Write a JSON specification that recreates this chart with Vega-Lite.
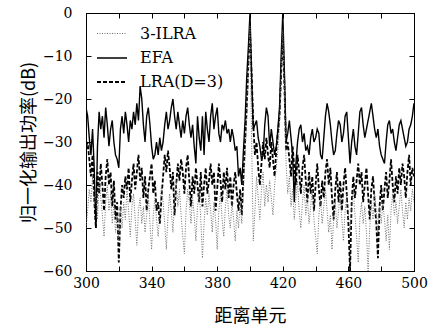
{
"$schema": "https://vega.github.io/schema/vega-lite/v6.json",
"width": 328, "height": 258,
"autosize": {"type": "none"},
"padding": {"left": 86, "top": 13, "right": 14, "bottom": 58},
"background": "white",
"config": {"view": {"stroke": "black", "strokeWidth": 1}, "font": "DejaVu Serif"},
"data": {"values": [
{"x":300,"s":"EFA","y":-22},{"x":301,"s":"EFA","y":-24},{"x":302,"s":"EFA","y":-29},{"x":303,"s":"EFA","y":-33},{"x":304,"s":"EFA","y":-27},{"x":305,"s":"EFA","y":-36},{"x":306,"s":"EFA","y":-50},{"x":307,"s":"EFA","y":-31},{"x":308,"s":"EFA","y":-23},{"x":309,"s":"EFA","y":-27},
{"x":310,"s":"EFA","y":-24},{"x":311,"s":"EFA","y":-29},{"x":312,"s":"EFA","y":-22},{"x":313,"s":"EFA","y":-26},{"x":314,"s":"EFA","y":-31},{"x":315,"s":"EFA","y":-27},{"x":316,"s":"EFA","y":-25},{"x":317,"s":"EFA","y":-30},{"x":318,"s":"EFA","y":-33},{"x":319,"s":"EFA","y":-34},
{"x":320,"s":"EFA","y":-36},{"x":321,"s":"EFA","y":-27},{"x":322,"s":"EFA","y":-24},{"x":323,"s":"EFA","y":-28},{"x":324,"s":"EFA","y":-23},{"x":325,"s":"EFA","y":-26},{"x":326,"s":"EFA","y":-30},{"x":327,"s":"EFA","y":-25},{"x":328,"s":"EFA","y":-27},{"x":329,"s":"EFA","y":-23},
{"x":330,"s":"EFA","y":-26},{"x":331,"s":"EFA","y":-21},{"x":332,"s":"EFA","y":-25},{"x":333,"s":"EFA","y":-17},{"x":334,"s":"EFA","y":-20},{"x":335,"s":"EFA","y":-26},{"x":336,"s":"EFA","y":-30},{"x":337,"s":"EFA","y":-24},{"x":338,"s":"EFA","y":-22},{"x":339,"s":"EFA","y":-26},
{"x":340,"s":"EFA","y":-31},{"x":341,"s":"EFA","y":-34},{"x":342,"s":"EFA","y":-33},{"x":343,"s":"EFA","y":-30},{"x":344,"s":"EFA","y":-33},{"x":345,"s":"EFA","y":-29},{"x":346,"s":"EFA","y":-32},{"x":347,"s":"EFA","y":-30},{"x":348,"s":"EFA","y":-26},{"x":349,"s":"EFA","y":-23},
{"x":350,"s":"EFA","y":-27},{"x":351,"s":"EFA","y":-25},{"x":352,"s":"EFA","y":-22},{"x":353,"s":"EFA","y":-20},{"x":354,"s":"EFA","y":-24},{"x":355,"s":"EFA","y":-27},{"x":356,"s":"EFA","y":-23},{"x":357,"s":"EFA","y":-26},{"x":358,"s":"EFA","y":-29},{"x":359,"s":"EFA","y":-25},
{"x":360,"s":"EFA","y":-28},{"x":361,"s":"EFA","y":-24},{"x":362,"s":"EFA","y":-22},{"x":363,"s":"EFA","y":-26},{"x":364,"s":"EFA","y":-29},{"x":365,"s":"EFA","y":-26},{"x":366,"s":"EFA","y":-31},{"x":367,"s":"EFA","y":-35},{"x":368,"s":"EFA","y":-24},{"x":369,"s":"EFA","y":-29},
{"x":370,"s":"EFA","y":-32},{"x":371,"s":"EFA","y":-24},{"x":372,"s":"EFA","y":-33},{"x":373,"s":"EFA","y":-23},{"x":374,"s":"EFA","y":-27},{"x":375,"s":"EFA","y":-30},{"x":376,"s":"EFA","y":-24},{"x":377,"s":"EFA","y":-21},{"x":378,"s":"EFA","y":-27},{"x":379,"s":"EFA","y":-24},
{"x":380,"s":"EFA","y":-22},{"x":381,"s":"EFA","y":-28},{"x":382,"s":"EFA","y":-30},{"x":383,"s":"EFA","y":-26},{"x":384,"s":"EFA","y":-27},{"x":385,"s":"EFA","y":-25},{"x":386,"s":"EFA","y":-28},{"x":387,"s":"EFA","y":-27},{"x":388,"s":"EFA","y":-30},{"x":389,"s":"EFA","y":-27},
{"x":390,"s":"EFA","y":-29},{"x":391,"s":"EFA","y":-32},{"x":392,"s":"EFA","y":-31},{"x":393,"s":"EFA","y":-38},{"x":394,"s":"EFA","y":-36},{"x":395,"s":"EFA","y":-40},{"x":396,"s":"EFA","y":-32},{"x":397,"s":"EFA","y":-25},{"x":398,"s":"EFA","y":-15},{"x":399,"s":"EFA","y":-8},
{"x":400,"s":"EFA","y":0},{"x":401,"s":"EFA","y":-15},{"x":402,"s":"EFA","y":-27},{"x":403,"s":"EFA","y":-26},{"x":404,"s":"EFA","y":-25},{"x":405,"s":"EFA","y":-29},{"x":406,"s":"EFA","y":-31},{"x":407,"s":"EFA","y":-34},{"x":408,"s":"EFA","y":-33},{"x":409,"s":"EFA","y":-26},
{"x":410,"s":"EFA","y":-22},{"x":411,"s":"EFA","y":-24},{"x":412,"s":"EFA","y":-31},{"x":413,"s":"EFA","y":-27},{"x":414,"s":"EFA","y":-30},{"x":415,"s":"EFA","y":-33},{"x":416,"s":"EFA","y":-31},{"x":417,"s":"EFA","y":-27},{"x":418,"s":"EFA","y":-22},{"x":419,"s":"EFA","y":-10},
{"x":420,"s":"EFA","y":0},{"x":421,"s":"EFA","y":-14},{"x":422,"s":"EFA","y":-30},{"x":423,"s":"EFA","y":-28},{"x":424,"s":"EFA","y":-25},{"x":425,"s":"EFA","y":-29},{"x":426,"s":"EFA","y":-33},{"x":427,"s":"EFA","y":-44},{"x":428,"s":"EFA","y":-35},{"x":429,"s":"EFA","y":-30},
{"x":430,"s":"EFA","y":-27},{"x":431,"s":"EFA","y":-26},{"x":432,"s":"EFA","y":-30},{"x":433,"s":"EFA","y":-28},{"x":434,"s":"EFA","y":-32},{"x":435,"s":"EFA","y":-31},{"x":436,"s":"EFA","y":-33},{"x":437,"s":"EFA","y":-29},{"x":438,"s":"EFA","y":-27},{"x":439,"s":"EFA","y":-30},
{"x":440,"s":"EFA","y":-29},{"x":441,"s":"EFA","y":-27},{"x":442,"s":"EFA","y":-28},{"x":443,"s":"EFA","y":-33},{"x":444,"s":"EFA","y":-34},{"x":445,"s":"EFA","y":-29},{"x":446,"s":"EFA","y":-24},{"x":447,"s":"EFA","y":-21},{"x":448,"s":"EFA","y":-23},{"x":449,"s":"EFA","y":-26},
{"x":450,"s":"EFA","y":-30},{"x":451,"s":"EFA","y":-33},{"x":452,"s":"EFA","y":-32},{"x":453,"s":"EFA","y":-28},{"x":454,"s":"EFA","y":-25},{"x":455,"s":"EFA","y":-26},{"x":456,"s":"EFA","y":-30},{"x":457,"s":"EFA","y":-28},{"x":458,"s":"EFA","y":-24},{"x":459,"s":"EFA","y":-23},
{"x":460,"s":"EFA","y":-29},{"x":461,"s":"EFA","y":-35},{"x":462,"s":"EFA","y":-30},{"x":463,"s":"EFA","y":-27},{"x":464,"s":"EFA","y":-31},{"x":465,"s":"EFA","y":-33},{"x":466,"s":"EFA","y":-28},{"x":467,"s":"EFA","y":-23},{"x":468,"s":"EFA","y":-22},{"x":469,"s":"EFA","y":-26},
{"x":470,"s":"EFA","y":-29},{"x":471,"s":"EFA","y":-27},{"x":472,"s":"EFA","y":-25},{"x":473,"s":"EFA","y":-23},{"x":474,"s":"EFA","y":-21},{"x":475,"s":"EFA","y":-24},{"x":476,"s":"EFA","y":-27},{"x":477,"s":"EFA","y":-29},{"x":478,"s":"EFA","y":-27},{"x":479,"s":"EFA","y":-31},
{"x":480,"s":"EFA","y":-33},{"x":481,"s":"EFA","y":-34},{"x":482,"s":"EFA","y":-35},{"x":483,"s":"EFA","y":-30},{"x":484,"s":"EFA","y":-26},{"x":485,"s":"EFA","y":-25},{"x":486,"s":"EFA","y":-28},{"x":487,"s":"EFA","y":-27},{"x":488,"s":"EFA","y":-30},{"x":489,"s":"EFA","y":-32},
{"x":490,"s":"EFA","y":-29},{"x":491,"s":"EFA","y":-26},{"x":492,"s":"EFA","y":-25},{"x":493,"s":"EFA","y":-27},{"x":494,"s":"EFA","y":-29},{"x":495,"s":"EFA","y":-31},{"x":496,"s":"EFA","y":-30},{"x":497,"s":"EFA","y":-27},{"x":498,"s":"EFA","y":-26},{"x":499,"s":"EFA","y":-24},
{"x":500,"s":"EFA","y":-21},
{"x":300,"s":"LRA(D=3)","y":-32},{"x":301,"s":"LRA(D=3)","y":-30},{"x":302,"s":"LRA(D=3)","y":-34},{"x":303,"s":"LRA(D=3)","y":-38},{"x":304,"s":"LRA(D=3)","y":-33},{"x":305,"s":"LRA(D=3)","y":-43},{"x":306,"s":"LRA(D=3)","y":-50},{"x":307,"s":"LRA(D=3)","y":-37},{"x":308,"s":"LRA(D=3)","y":-42},{"x":309,"s":"LRA(D=3)","y":-35},
{"x":310,"s":"LRA(D=3)","y":-40},{"x":311,"s":"LRA(D=3)","y":-46},{"x":312,"s":"LRA(D=3)","y":-38},{"x":313,"s":"LRA(D=3)","y":-34},{"x":314,"s":"LRA(D=3)","y":-40},{"x":315,"s":"LRA(D=3)","y":-37},{"x":316,"s":"LRA(D=3)","y":-45},{"x":317,"s":"LRA(D=3)","y":-39},{"x":318,"s":"LRA(D=3)","y":-48},{"x":319,"s":"LRA(D=3)","y":-44},
{"x":320,"s":"LRA(D=3)","y":-58},{"x":321,"s":"LRA(D=3)","y":-46},{"x":322,"s":"LRA(D=3)","y":-40},{"x":323,"s":"LRA(D=3)","y":-43},{"x":324,"s":"LRA(D=3)","y":-38},{"x":325,"s":"LRA(D=3)","y":-41},{"x":326,"s":"LRA(D=3)","y":-36},{"x":327,"s":"LRA(D=3)","y":-44},{"x":328,"s":"LRA(D=3)","y":-39},{"x":329,"s":"LRA(D=3)","y":-35},
{"x":330,"s":"LRA(D=3)","y":-41},{"x":331,"s":"LRA(D=3)","y":-37},{"x":332,"s":"LRA(D=3)","y":-33},{"x":333,"s":"LRA(D=3)","y":-39},{"x":334,"s":"LRA(D=3)","y":-36},{"x":335,"s":"LRA(D=3)","y":-43},{"x":336,"s":"LRA(D=3)","y":-38},{"x":337,"s":"LRA(D=3)","y":-46},{"x":338,"s":"LRA(D=3)","y":-41},{"x":339,"s":"LRA(D=3)","y":-38},
{"x":340,"s":"LRA(D=3)","y":-35},{"x":341,"s":"LRA(D=3)","y":-42},{"x":342,"s":"LRA(D=3)","y":-39},{"x":343,"s":"LRA(D=3)","y":-46},{"x":344,"s":"LRA(D=3)","y":-44},{"x":345,"s":"LRA(D=3)","y":-49},{"x":346,"s":"LRA(D=3)","y":-43},{"x":347,"s":"LRA(D=3)","y":-38},{"x":348,"s":"LRA(D=3)","y":-33},{"x":349,"s":"LRA(D=3)","y":-37},
{"x":350,"s":"LRA(D=3)","y":-32},{"x":351,"s":"LRA(D=3)","y":-36},{"x":352,"s":"LRA(D=3)","y":-41},{"x":353,"s":"LRA(D=3)","y":-37},{"x":354,"s":"LRA(D=3)","y":-47},{"x":355,"s":"LRA(D=3)","y":-40},{"x":356,"s":"LRA(D=3)","y":-35},{"x":357,"s":"LRA(D=3)","y":-39},{"x":358,"s":"LRA(D=3)","y":-34},{"x":359,"s":"LRA(D=3)","y":-37},
{"x":360,"s":"LRA(D=3)","y":-42},{"x":361,"s":"LRA(D=3)","y":-36},{"x":362,"s":"LRA(D=3)","y":-33},{"x":363,"s":"LRA(D=3)","y":-39},{"x":364,"s":"LRA(D=3)","y":-45},{"x":365,"s":"LRA(D=3)","y":-38},{"x":366,"s":"LRA(D=3)","y":-42},{"x":367,"s":"LRA(D=3)","y":-36},{"x":368,"s":"LRA(D=3)","y":-40},{"x":369,"s":"LRA(D=3)","y":-44},
{"x":370,"s":"LRA(D=3)","y":-37},{"x":371,"s":"LRA(D=3)","y":-45},{"x":372,"s":"LRA(D=3)","y":-40},{"x":373,"s":"LRA(D=3)","y":-36},{"x":374,"s":"LRA(D=3)","y":-42},{"x":375,"s":"LRA(D=3)","y":-39},{"x":376,"s":"LRA(D=3)","y":-35},{"x":377,"s":"LRA(D=3)","y":-40},{"x":378,"s":"LRA(D=3)","y":-37},{"x":379,"s":"LRA(D=3)","y":-46},
{"x":380,"s":"LRA(D=3)","y":-41},{"x":381,"s":"LRA(D=3)","y":-35},{"x":382,"s":"LRA(D=3)","y":-39},{"x":383,"s":"LRA(D=3)","y":-44},{"x":384,"s":"LRA(D=3)","y":-37},{"x":385,"s":"LRA(D=3)","y":-41},{"x":386,"s":"LRA(D=3)","y":-36},{"x":387,"s":"LRA(D=3)","y":-43},{"x":388,"s":"LRA(D=3)","y":-38},{"x":389,"s":"LRA(D=3)","y":-45},
{"x":390,"s":"LRA(D=3)","y":-40},{"x":391,"s":"LRA(D=3)","y":-37},{"x":392,"s":"LRA(D=3)","y":-42},{"x":393,"s":"LRA(D=3)","y":-46},{"x":394,"s":"LRA(D=3)","y":-41},{"x":395,"s":"LRA(D=3)","y":-47},{"x":396,"s":"LRA(D=3)","y":-38},{"x":397,"s":"LRA(D=3)","y":-30},{"x":398,"s":"LRA(D=3)","y":-22},{"x":399,"s":"LRA(D=3)","y":-12},
{"x":400,"s":"LRA(D=3)","y":-4},{"x":401,"s":"LRA(D=3)","y":-14},{"x":402,"s":"LRA(D=3)","y":-26},{"x":403,"s":"LRA(D=3)","y":-33},{"x":404,"s":"LRA(D=3)","y":-30},{"x":405,"s":"LRA(D=3)","y":-36},{"x":406,"s":"LRA(D=3)","y":-40},{"x":407,"s":"LRA(D=3)","y":-35},{"x":408,"s":"LRA(D=3)","y":-30},{"x":409,"s":"LRA(D=3)","y":-34},
{"x":410,"s":"LRA(D=3)","y":-29},{"x":411,"s":"LRA(D=3)","y":-33},{"x":412,"s":"LRA(D=3)","y":-36},{"x":413,"s":"LRA(D=3)","y":-30},{"x":414,"s":"LRA(D=3)","y":-34},{"x":415,"s":"LRA(D=3)","y":-38},{"x":416,"s":"LRA(D=3)","y":-32},{"x":417,"s":"LRA(D=3)","y":-28},{"x":418,"s":"LRA(D=3)","y":-24},{"x":419,"s":"LRA(D=3)","y":-14},
{"x":420,"s":"LRA(D=3)","y":-5},{"x":421,"s":"LRA(D=3)","y":-17},{"x":422,"s":"LRA(D=3)","y":-32},{"x":423,"s":"LRA(D=3)","y":-30},{"x":424,"s":"LRA(D=3)","y":-34},{"x":425,"s":"LRA(D=3)","y":-38},{"x":426,"s":"LRA(D=3)","y":-31},{"x":427,"s":"LRA(D=3)","y":-36},{"x":428,"s":"LRA(D=3)","y":-40},{"x":429,"s":"LRA(D=3)","y":-33},
{"x":430,"s":"LRA(D=3)","y":-37},{"x":431,"s":"LRA(D=3)","y":-42},{"x":432,"s":"LRA(D=3)","y":-36},{"x":433,"s":"LRA(D=3)","y":-33},{"x":434,"s":"LRA(D=3)","y":-39},{"x":435,"s":"LRA(D=3)","y":-44},{"x":436,"s":"LRA(D=3)","y":-37},{"x":437,"s":"LRA(D=3)","y":-42},{"x":438,"s":"LRA(D=3)","y":-38},{"x":439,"s":"LRA(D=3)","y":-46},
{"x":440,"s":"LRA(D=3)","y":-40},{"x":441,"s":"LRA(D=3)","y":-35},{"x":442,"s":"LRA(D=3)","y":-41},{"x":443,"s":"LRA(D=3)","y":-45},{"x":444,"s":"LRA(D=3)","y":-39},{"x":445,"s":"LRA(D=3)","y":-43},{"x":446,"s":"LRA(D=3)","y":-37},{"x":447,"s":"LRA(D=3)","y":-34},{"x":448,"s":"LRA(D=3)","y":-40},{"x":449,"s":"LRA(D=3)","y":-36},
{"x":450,"s":"LRA(D=3)","y":-43},{"x":451,"s":"LRA(D=3)","y":-48},{"x":452,"s":"LRA(D=3)","y":-41},{"x":453,"s":"LRA(D=3)","y":-37},{"x":454,"s":"LRA(D=3)","y":-44},{"x":455,"s":"LRA(D=3)","y":-39},{"x":456,"s":"LRA(D=3)","y":-46},{"x":457,"s":"LRA(D=3)","y":-40},{"x":458,"s":"LRA(D=3)","y":-36},{"x":459,"s":"LRA(D=3)","y":-42},
{"x":460,"s":"LRA(D=3)","y":-49},{"x":461,"s":"LRA(D=3)","y":-60},{"x":462,"s":"LRA(D=3)","y":-44},{"x":463,"s":"LRA(D=3)","y":-38},{"x":464,"s":"LRA(D=3)","y":-43},{"x":465,"s":"LRA(D=3)","y":-39},{"x":466,"s":"LRA(D=3)","y":-35},{"x":467,"s":"LRA(D=3)","y":-40},{"x":468,"s":"LRA(D=3)","y":-37},{"x":469,"s":"LRA(D=3)","y":-44},
{"x":470,"s":"LRA(D=3)","y":-40},{"x":471,"s":"LRA(D=3)","y":-36},{"x":472,"s":"LRA(D=3)","y":-42},{"x":473,"s":"LRA(D=3)","y":-48},{"x":474,"s":"LRA(D=3)","y":-41},{"x":475,"s":"LRA(D=3)","y":-38},{"x":476,"s":"LRA(D=3)","y":-44},{"x":477,"s":"LRA(D=3)","y":-49},{"x":478,"s":"LRA(D=3)","y":-57},{"x":479,"s":"LRA(D=3)","y":-45},
{"x":480,"s":"LRA(D=3)","y":-40},{"x":481,"s":"LRA(D=3)","y":-46},{"x":482,"s":"LRA(D=3)","y":-41},{"x":483,"s":"LRA(D=3)","y":-37},{"x":484,"s":"LRA(D=3)","y":-43},{"x":485,"s":"LRA(D=3)","y":-39},{"x":486,"s":"LRA(D=3)","y":-34},{"x":487,"s":"LRA(D=3)","y":-40},{"x":488,"s":"LRA(D=3)","y":-44},{"x":489,"s":"LRA(D=3)","y":-38},
{"x":490,"s":"LRA(D=3)","y":-42},{"x":491,"s":"LRA(D=3)","y":-36},{"x":492,"s":"LRA(D=3)","y":-40},{"x":493,"s":"LRA(D=3)","y":-35},{"x":494,"s":"LRA(D=3)","y":-38},{"x":495,"s":"LRA(D=3)","y":-43},{"x":496,"s":"LRA(D=3)","y":-37},{"x":497,"s":"LRA(D=3)","y":-33},{"x":498,"s":"LRA(D=3)","y":-40},{"x":499,"s":"LRA(D=3)","y":-36},
{"x":500,"s":"LRA(D=3)","y":-38},
{"x":300,"s":"3-ILRA","y":-50},{"x":301,"s":"3-ILRA","y":-46},{"x":302,"s":"3-ILRA","y":-41},{"x":303,"s":"3-ILRA","y":-44},{"x":304,"s":"3-ILRA","y":-38},{"x":305,"s":"3-ILRA","y":-45},{"x":306,"s":"3-ILRA","y":-42},{"x":307,"s":"3-ILRA","y":-48},{"x":308,"s":"3-ILRA","y":-39},{"x":309,"s":"3-ILRA","y":-43},
{"x":310,"s":"3-ILRA","y":-47},{"x":311,"s":"3-ILRA","y":-52},{"x":312,"s":"3-ILRA","y":-44},{"x":313,"s":"3-ILRA","y":-40},{"x":314,"s":"3-ILRA","y":-46},{"x":315,"s":"3-ILRA","y":-42},{"x":316,"s":"3-ILRA","y":-49},{"x":317,"s":"3-ILRA","y":-44},{"x":318,"s":"3-ILRA","y":-51},{"x":319,"s":"3-ILRA","y":-47},
{"x":320,"s":"3-ILRA","y":-53},{"x":321,"s":"3-ILRA","y":-45},{"x":322,"s":"3-ILRA","y":-50},{"x":323,"s":"3-ILRA","y":-44},{"x":324,"s":"3-ILRA","y":-48},{"x":325,"s":"3-ILRA","y":-41},{"x":326,"s":"3-ILRA","y":-46},{"x":327,"s":"3-ILRA","y":-52},{"x":328,"s":"3-ILRA","y":-45},{"x":329,"s":"3-ILRA","y":-42},
{"x":330,"s":"3-ILRA","y":-48},{"x":331,"s":"3-ILRA","y":-54},{"x":332,"s":"3-ILRA","y":-46},{"x":333,"s":"3-ILRA","y":-43},{"x":334,"s":"3-ILRA","y":-49},{"x":335,"s":"3-ILRA","y":-45},{"x":336,"s":"3-ILRA","y":-51},{"x":337,"s":"3-ILRA","y":-47},{"x":338,"s":"3-ILRA","y":-42},{"x":339,"s":"3-ILRA","y":-49},
{"x":340,"s":"3-ILRA","y":-55},{"x":341,"s":"3-ILRA","y":-47},{"x":342,"s":"3-ILRA","y":-43},{"x":343,"s":"3-ILRA","y":-48},{"x":344,"s":"3-ILRA","y":-52},{"x":345,"s":"3-ILRA","y":-46},{"x":346,"s":"3-ILRA","y":-40},{"x":347,"s":"3-ILRA","y":-44},{"x":348,"s":"3-ILRA","y":-49},{"x":349,"s":"3-ILRA","y":-55},
{"x":350,"s":"3-ILRA","y":-47},{"x":351,"s":"3-ILRA","y":-42},{"x":352,"s":"3-ILRA","y":-46},{"x":353,"s":"3-ILRA","y":-51},{"x":354,"s":"3-ILRA","y":-44},{"x":355,"s":"3-ILRA","y":-39},{"x":356,"s":"3-ILRA","y":-45},{"x":357,"s":"3-ILRA","y":-41},{"x":358,"s":"3-ILRA","y":-47},{"x":359,"s":"3-ILRA","y":-52},
{"x":360,"s":"3-ILRA","y":-56},{"x":361,"s":"3-ILRA","y":-46},{"x":362,"s":"3-ILRA","y":-41},{"x":363,"s":"3-ILRA","y":-44},{"x":364,"s":"3-ILRA","y":-49},{"x":365,"s":"3-ILRA","y":-43},{"x":366,"s":"3-ILRA","y":-47},{"x":367,"s":"3-ILRA","y":-53},{"x":368,"s":"3-ILRA","y":-45},{"x":369,"s":"3-ILRA","y":-41},
{"x":370,"s":"3-ILRA","y":-48},{"x":371,"s":"3-ILRA","y":-57},{"x":372,"s":"3-ILRA","y":-49},{"x":373,"s":"3-ILRA","y":-43},{"x":374,"s":"3-ILRA","y":-47},{"x":375,"s":"3-ILRA","y":-42},{"x":376,"s":"3-ILRA","y":-46},{"x":377,"s":"3-ILRA","y":-51},{"x":378,"s":"3-ILRA","y":-44},{"x":379,"s":"3-ILRA","y":-48},
{"x":380,"s":"3-ILRA","y":-55},{"x":381,"s":"3-ILRA","y":-46},{"x":382,"s":"3-ILRA","y":-42},{"x":383,"s":"3-ILRA","y":-48},{"x":384,"s":"3-ILRA","y":-52},{"x":385,"s":"3-ILRA","y":-45},{"x":386,"s":"3-ILRA","y":-41},{"x":387,"s":"3-ILRA","y":-47},{"x":388,"s":"3-ILRA","y":-50},{"x":389,"s":"3-ILRA","y":-44},
{"x":390,"s":"3-ILRA","y":-48},{"x":391,"s":"3-ILRA","y":-53},{"x":392,"s":"3-ILRA","y":-46},{"x":393,"s":"3-ILRA","y":-50},{"x":394,"s":"3-ILRA","y":-44},{"x":395,"s":"3-ILRA","y":-49},{"x":396,"s":"3-ILRA","y":-41},{"x":397,"s":"3-ILRA","y":-33},{"x":398,"s":"3-ILRA","y":-24},{"x":399,"s":"3-ILRA","y":-13},
{"x":400,"s":"3-ILRA","y":-3},{"x":401,"s":"3-ILRA","y":-30},{"x":402,"s":"3-ILRA","y":-53},{"x":403,"s":"3-ILRA","y":-46},{"x":404,"s":"3-ILRA","y":-38},{"x":405,"s":"3-ILRA","y":-43},{"x":406,"s":"3-ILRA","y":-48},{"x":407,"s":"3-ILRA","y":-41},{"x":408,"s":"3-ILRA","y":-37},{"x":409,"s":"3-ILRA","y":-45},
{"x":410,"s":"3-ILRA","y":-40},{"x":411,"s":"3-ILRA","y":-44},{"x":412,"s":"3-ILRA","y":-39},{"x":413,"s":"3-ILRA","y":-43},{"x":414,"s":"3-ILRA","y":-47},{"x":415,"s":"3-ILRA","y":-40},{"x":416,"s":"3-ILRA","y":-36},{"x":417,"s":"3-ILRA","y":-32},{"x":418,"s":"3-ILRA","y":-26},{"x":419,"s":"3-ILRA","y":-14},
{"x":420,"s":"3-ILRA","y":-4},{"x":421,"s":"3-ILRA","y":-18},{"x":422,"s":"3-ILRA","y":-35},{"x":423,"s":"3-ILRA","y":-42},{"x":424,"s":"3-ILRA","y":-38},{"x":425,"s":"3-ILRA","y":-45},{"x":426,"s":"3-ILRA","y":-41},{"x":427,"s":"3-ILRA","y":-48},{"x":428,"s":"3-ILRA","y":-43},{"x":429,"s":"3-ILRA","y":-39},
{"x":430,"s":"3-ILRA","y":-46},{"x":431,"s":"3-ILRA","y":-50},{"x":432,"s":"3-ILRA","y":-44},{"x":433,"s":"3-ILRA","y":-40},{"x":434,"s":"3-ILRA","y":-47},{"x":435,"s":"3-ILRA","y":-43},{"x":436,"s":"3-ILRA","y":-49},{"x":437,"s":"3-ILRA","y":-45},{"x":438,"s":"3-ILRA","y":-41},{"x":439,"s":"3-ILRA","y":-48},
{"x":440,"s":"3-ILRA","y":-52},{"x":441,"s":"3-ILRA","y":-56},{"x":442,"s":"3-ILRA","y":-47},{"x":443,"s":"3-ILRA","y":-43},{"x":444,"s":"3-ILRA","y":-49},{"x":445,"s":"3-ILRA","y":-45},{"x":446,"s":"3-ILRA","y":-41},{"x":447,"s":"3-ILRA","y":-46},{"x":448,"s":"3-ILRA","y":-51},{"x":449,"s":"3-ILRA","y":-47},
{"x":450,"s":"3-ILRA","y":-55},{"x":451,"s":"3-ILRA","y":-48},{"x":452,"s":"3-ILRA","y":-44},{"x":453,"s":"3-ILRA","y":-50},{"x":454,"s":"3-ILRA","y":-46},{"x":455,"s":"3-ILRA","y":-42},{"x":456,"s":"3-ILRA","y":-48},{"x":457,"s":"3-ILRA","y":-53},{"x":458,"s":"3-ILRA","y":-46},{"x":459,"s":"3-ILRA","y":-42},
{"x":460,"s":"3-ILRA","y":-47},{"x":461,"s":"3-ILRA","y":-51},{"x":462,"s":"3-ILRA","y":-45},{"x":463,"s":"3-ILRA","y":-41},{"x":464,"s":"3-ILRA","y":-47},{"x":465,"s":"3-ILRA","y":-52},{"x":466,"s":"3-ILRA","y":-58},{"x":467,"s":"3-ILRA","y":-48},{"x":468,"s":"3-ILRA","y":-44},{"x":469,"s":"3-ILRA","y":-49},
{"x":470,"s":"3-ILRA","y":-45},{"x":471,"s":"3-ILRA","y":-51},{"x":472,"s":"3-ILRA","y":-60},{"x":473,"s":"3-ILRA","y":-50},{"x":474,"s":"3-ILRA","y":-44},{"x":475,"s":"3-ILRA","y":-48},{"x":476,"s":"3-ILRA","y":-42},{"x":477,"s":"3-ILRA","y":-46},{"x":478,"s":"3-ILRA","y":-51},{"x":479,"s":"3-ILRA","y":-45},
{"x":480,"s":"3-ILRA","y":-49},{"x":481,"s":"3-ILRA","y":-44},{"x":482,"s":"3-ILRA","y":-48},{"x":483,"s":"3-ILRA","y":-53},{"x":484,"s":"3-ILRA","y":-47},{"x":485,"s":"3-ILRA","y":-55},{"x":486,"s":"3-ILRA","y":-46},{"x":487,"s":"3-ILRA","y":-42},{"x":488,"s":"3-ILRA","y":-47},{"x":489,"s":"3-ILRA","y":-44},
{"x":490,"s":"3-ILRA","y":-49},{"x":491,"s":"3-ILRA","y":-45},{"x":492,"s":"3-ILRA","y":-41},{"x":493,"s":"3-ILRA","y":-46},{"x":494,"s":"3-ILRA","y":-50},{"x":495,"s":"3-ILRA","y":-44},{"x":496,"s":"3-ILRA","y":-48},{"x":497,"s":"3-ILRA","y":-43},{"x":498,"s":"3-ILRA","y":-46},{"x":499,"s":"3-ILRA","y":-41},
{"x":500,"s":"3-ILRA","y":-44}
]},
"layer": [
{
"mark": {"type": "line", "clip": true},
"encoding": {
"x": {"field": "x", "type": "quantitative", "scale": {"domain": [300, 500], "nice": false},
"axis": {"values": [300,320,340,360,380,400,420,440,460,480,500], "labelExpr": "(datum.value - 300) % 40 == 0 ? datum.label : ''", "grid": false, "tickSize": -5, "tickColor": "black", "domainColor": "black", "labelColor": "black", "labelFont": "DejaVu Serif", "labelFontSize": 14, "labelPadding": 10, "labelFlush": false, "title": "距离单元", "titleFont": "Noto Sans CJK SC", "titleFontSize": 18, "titleFontWeight": "normal", "titleColor": "black", "titlePadding": 17}},
"y": {"field": "y", "type": "quantitative", "scale": {"domain": [-60, 0], "nice": false},
"axis": {"values": [-60,-50,-40,-30,-20,-10,0], "grid": false, "tickSize": -5, "tickColor": "black", "domainColor": "black", "labelColor": "black", "labelFont": "DejaVu Serif", "labelFontSize": 14, "labelPadding": 19, "labelFlush": false, "title": "归一化输出功率(dB)", "titleFont": "Noto Sans CJK SC", "titleFontSize": 18, "titleFontWeight": "normal", "titleColor": "black", "titlePadding": 4}},
"color": {"field": "s", "type": "nominal", "scale": {"domain": ["3-ILRA", "EFA", "LRA(D=3)"], "range": ["#6e6e6e", "#000000", "#000000"]},
"legend": {"title": null, "orient": "none", "legendX": 10, "legendY": 5, "symbolType": "stroke", "symbolSize": 900, "labelFont": "DejaVu Serif", "labelFontSize": 16, "labelColor": "black", "labelOffset": 12, "rowPadding": 0}},
"strokeDash": {"field": "s", "type": "nominal", "scale": {"domain": ["3-ILRA", "EFA", "LRA(D=3)"], "range": [[1, 1.5], [1, 0], [4, 2]]}},
"strokeWidth": {"field": "s", "type": "nominal", "scale": {"domain": ["3-ILRA", "EFA", "LRA(D=3)"], "range": [1, 1.8, 1.3]}}
}
},
{
"mark": {"type": "line", "opacity": 0},
"encoding": {
"x": {"field": "x", "type": "quantitative", "axis": {"orient": "top", "values": [300,320,340,360,380,400,420,440,460,480,500], "labels": false, "grid": false, "tickSize": -5, "tickColor": "black", "domainColor": "black", "title": null}},
"y": {"field": "y", "type": "quantitative", "axis": {"orient": "right", "values": [-60,-50,-40,-30,-20,-10,0], "labels": false, "grid": false, "tickSize": -5, "tickColor": "black", "domainColor": "black", "title": null}}
}
}
],
"resolve": {"axis": {"x": "independent", "y": "independent"}}
}
